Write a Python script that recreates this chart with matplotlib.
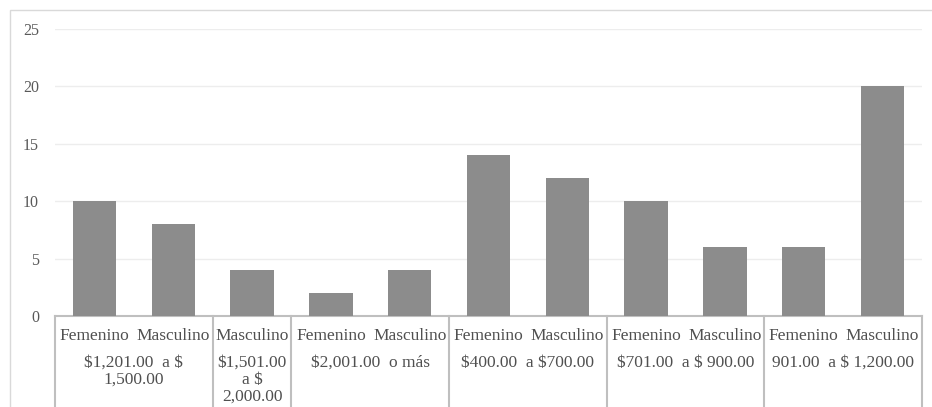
import matplotlib
matplotlib.use("Agg")
import matplotlib.pyplot as plt
from matplotlib.patches import Rectangle
import matplotlib.transforms as mtransforms

genders = ["Femenino", "Masculino", "Masculino", "Femenino", "Masculino",
           "Femenino", "Masculino", "Femenino", "Masculino", "Femenino", "Masculino"]
values = [10, 8, 4, 2, 4, 14, 12, 10, 6, 6, 20]
groups = ["$1,201.00  a $\n1,500.00", "$1,501.00\na $\n2,000.00", "$2,001.00  o más",
          "$400.00  a $700.00", "$701.00  a $ 900.00", "901.00  a $ 1,200.00"]
group_sizes = [2, 1, 2, 2, 2, 2]
yticks = [0, 5, 10, 15, 20, 25]

W, H = 932, 407
plt.rcParams['font.family'] = ['Liberation Serif', 'DejaVu Serif']
fig = plt.figure(figsize=(W / 100, H / 100), dpi=100)

# outer chart border
fig.patches.append(Rectangle((9.5 / W, -0.1), 1.0, (H - 10.5) / H + 0.1,
                             transform=fig.transFigure, fill=False,
                             edgecolor="#D9D9D9", lw=1.0))

left, right, top, bottom = 55, 922, 29, 316
ax = fig.add_axes([left / W, (H - bottom) / H, (right - left) / W, (bottom - top) / H])

x = list(range(len(values)))
ax.bar(x, values, width=0.55, color="#8C8C8C", zorder=3)
ax.set_xlim(-0.5, len(values) - 0.5)
ax.set_ylim(0, 25)
ax.set_yticks(yticks)
ax.set_yticklabels([str(t) for t in yticks], fontsize=11.5, color="#595959")
ax.tick_params(axis="y", length=0, pad=11.5)
ax.set_xticks([])
for s in ["top", "right", "left"]:
    ax.spines[s].set_visible(False)
ax.spines["bottom"].set_color("#BFBFBF")
ax.spines["bottom"].set_linewidth(1.5)
ax.grid(axis="y", color="#EDEDED", lw=1.0, zorder=0)

trans = mtransforms.blended_transform_factory(ax.transData, ax.transAxes)
axh = bottom - top
for i, g in enumerate(genders):
    ax.text(i, -20 / axh, g, transform=trans, ha="center", va="center",
            fontsize=12.5, color="#505050", parse_math=False)

start = 0
bounds = [-0.5]
for name, n in zip(groups, group_sizes):
    center = start + (n - 1) / 2
    ax.text(center, -39 / axh, name, transform=trans, ha="center", va="top",
            fontsize=12.5, color="#505050", linespacing=1.07, parse_math=False)
    start += n
    bounds.append(start - 0.5)

for b in bounds:
    ax.plot([b, b], [0, -0.4], transform=trans, color="#BFBFBF", lw=1.5,
            clip_on=False, zorder=4)

fig.savefig("out.png", dpi=100)
